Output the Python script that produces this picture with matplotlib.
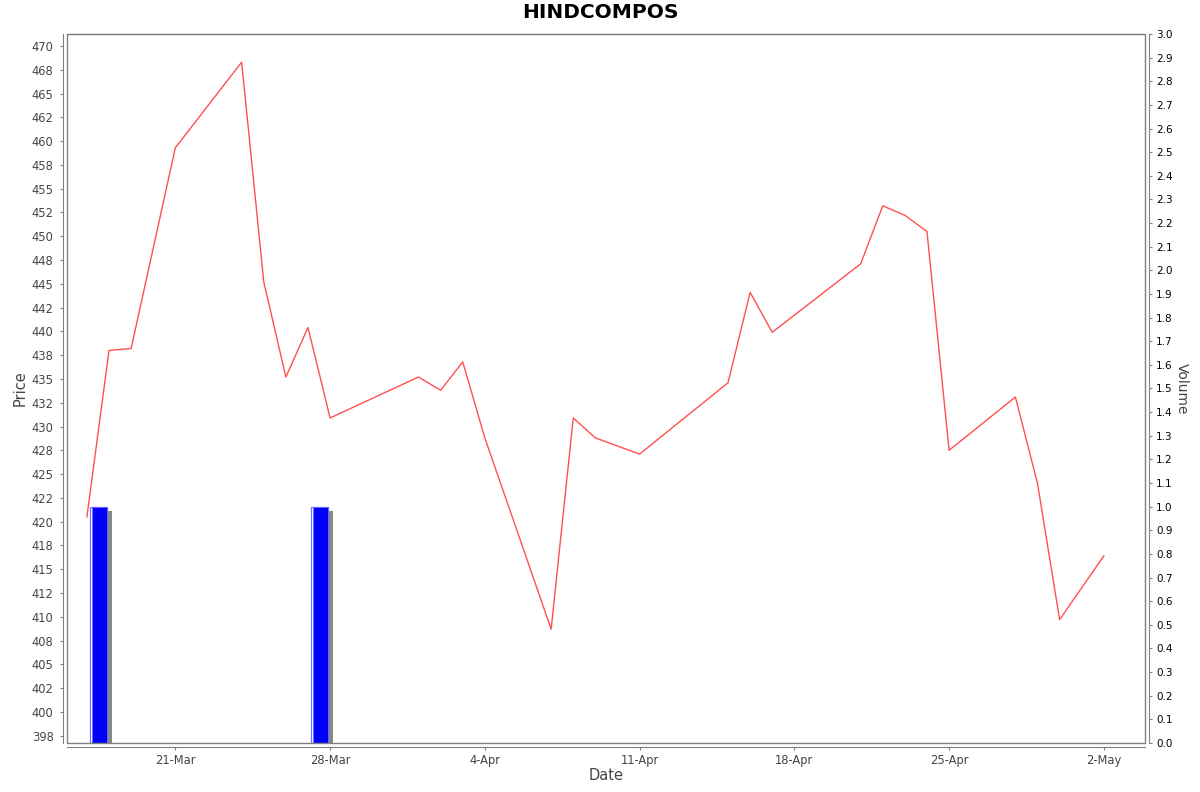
import datetime as dt

import numpy as np
import matplotlib
matplotlib.use("Agg")
import matplotlib.pyplot as plt
import matplotlib.dates as mdates
import matplotlib.patheffects as pe
from matplotlib.patches import Rectangle
from matplotlib.ticker import FixedLocator, FuncFormatter, MultipleLocator

# data
dates = ["2025-03-17", "2025-03-18", "2025-03-19", "2025-03-21", "2025-03-24",
         "2025-03-25", "2025-03-26", "2025-03-27", "2025-03-28", "2025-04-01",
         "2025-04-02", "2025-04-03", "2025-04-04", "2025-04-07", "2025-04-08",
         "2025-04-09", "2025-04-11", "2025-04-15", "2025-04-16", "2025-04-17",
         "2025-04-21", "2025-04-22", "2025-04-23", "2025-04-24", "2025-04-25",
         "2025-04-28", "2025-04-29", "2025-04-30", "2025-05-02"]
prices = [420.5, 438.0, 438.2, 459.3, 468.3, 445.2, 435.2, 440.4, 430.9, 435.2,
          433.8, 436.8, 428.8, 408.7, 430.9, 428.8, 427.1, 434.6, 444.1, 439.9,
          447.1, 453.2, 452.2, 450.5, 427.5, 433.1, 424.0, 409.7, 416.4]

vol_dates = ["2025-03-17", "2025-03-27"]
volumes = [1.0, 1.0]

title = "HINDCOMPOS"

x = [dt.datetime.strptime(d, "%Y-%m-%d") for d in dates]
xv = [dt.datetime.strptime(d, "%Y-%m-%d") for d in vol_dates]

W, H = 1200, 792
fig = plt.figure(figsize=(12, 7.92), dpi=100)
L, R, T, B = 67.3, 1145.3, 34, 743
ax = fig.add_axes([L / W, 1 - B / H, (R - L) / W, (B - T) / H])
ax2 = ax.twinx()

# volume bars (secondary axis, behind the price line)
xv_num = mdates.date2num(xv)
ax2.bar(xv_num + 0.12, volumes, width=0.8, align="edge",
        color="white", edgecolor="#7070ff", linewidth=0.9,
        path_effects=[pe.SimplePatchShadow(offset=(3.6, -3.0), shadow_rgbFace="#888888", alpha=1.0),
                      pe.Normal()])
ax2.bar(xv_num + 0.225, volumes, width=0.695, align="edge",
        color="#0000ff", edgecolor="#7070ff", linewidth=0.6)
ax2.set_ylim(0, 3.0)
ax2.yaxis.set_major_locator(MultipleLocator(0.1))
ax2.yaxis.set_major_formatter(FuncFormatter(lambda v, p: f"{v:.1f}"))
ax2.tick_params(axis="y", direction="out", length=2, width=0.8, color="#808080",
                labelsize=7.5, labelcolor="black", pad=3)
ax2.set_ylabel("Volume", rotation=270, fontsize=10, color="#444444")
ax2.yaxis.set_label_coords(1.034, 0.5)
ax2.yaxis.label.set_va("center")

# price line on top
ax.set_zorder(ax2.get_zorder() + 1)
ax.patch.set_visible(False)
ax.plot(x, prices, color="#ff5050", lw=1.0)

ax.set_xlim(mdates.date2num(dt.datetime(2025, 3, 16, 2, 43)),
            mdates.date2num(dt.datetime(2025, 5, 3, 21, 0)))
ax.set_ylim(396.73, 471.26)

yt = np.arange(397.5, 470.01, 2.5)
ax.yaxis.set_major_locator(FixedLocator(yt))
ax.yaxis.set_major_formatter(FuncFormatter(lambda v, p: f"{round(v):d}"))
ax.xaxis.set_major_locator(mdates.WeekdayLocator(byweekday=mdates.FR))
ax.xaxis.set_major_formatter(FuncFormatter(
    lambda v, p: f"{mdates.num2date(v).day}-{mdates.num2date(v):%b}"))
ax.tick_params(axis="both", direction="out", length=2, width=0.8, color="#808080",
               labelsize=8.3, labelcolor="#444444")
ax.tick_params(axis="y", pad=5)
ax.tick_params(axis="x", pad=3)

ax.set_ylabel("Price", fontsize=10.5, color="#444444")
ax.yaxis.set_label_coords(-0.0439, 0.5)
ax.yaxis.label.set_va("center")
ax.set_xlabel("Date", fontsize=10.5, color="#444444")
ax.xaxis.set_label_coords(0.4997, -0.0465)
ax.xaxis.label.set_va("center")

# axis lines sit a few pixels away from the plot border
for a in (ax, ax2):
    for s in ("left", "bottom", "right"):
        a.spines[s].set_position(("outward", 2.9))
        a.spines[s].set_color("#808080")
    a.spines["top"].set_color("#808080")
ax.spines["right"].set_visible(False)
ax2.spines["left"].set_visible(False)
ax2.spines["bottom"].set_visible(False)
ax2.spines["top"].set_visible(False)
ax.add_patch(Rectangle((0, 0), 1, 1, transform=ax.transAxes, fill=False,
                       edgecolor="#808080", lw=1.0, clip_on=False, zorder=5))

fig.text(0.5, 1 - 13 / H, title, ha="center", va="center",
         fontsize=14.5, fontweight="bold", color="black")

fig.savefig("out.png", dpi=100)
